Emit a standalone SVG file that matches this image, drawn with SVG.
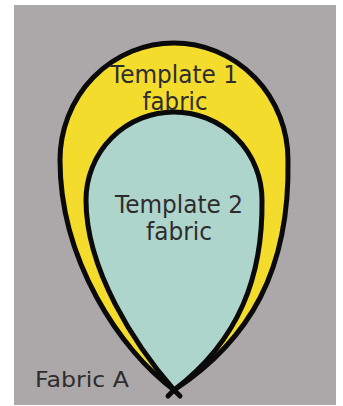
<svg xmlns="http://www.w3.org/2000/svg" width="343" height="406" viewBox="0 0 343 406">
<style>
.lbl{font-family:"DejaVu Sans","Liberation Sans",sans-serif;fill:#2e2c2d;text-anchor:middle}
.edge{stroke:#0a0a0a;stroke-width:5;stroke-linejoin:round;stroke-linecap:round}
.line{fill:none}
.t1{fill:#f3dc2c}
.t2{fill:#aed5cc}
</style>
<rect x="0" y="0" width="343" height="406" fill="#ffffff"/>
<rect id="fabricA" x="14" y="5" width="322" height="400" fill="#aca8a9"/>
<g id="template1">
<path d="M174 390 C120 350 60 260 60 160 A114 117 0 0 1 288 160 C290 270 250 340 174 390 Z" class="edge t1"/>
</g>
<g id="template2">
<path d="M174 390 C135 345 86 270 86 200 A88 88 0 0 1 262 200 C263 275 240 340 174 390 Z" class="edge t2"/>
</g>
<g id="tip">
<path d="M174 390 L180 396 M174 390 L168 396" class="edge line" stroke-width="4"/>
</g>
<text class="lbl" x="174" y="83" font-size="24" textLength="128" lengthAdjust="spacingAndGlyphs">Template 1</text>
<text class="lbl" x="175" y="110" font-size="24" textLength="65" lengthAdjust="spacingAndGlyphs">fabric</text>
<text class="lbl" x="179" y="213" font-size="24" textLength="128" lengthAdjust="spacingAndGlyphs">Template 2</text>
<text class="lbl" x="179" y="240" font-size="24" textLength="66" lengthAdjust="spacingAndGlyphs">fabric</text>
<text class="lbl" x="82" y="387" font-size="22" textLength="94" lengthAdjust="spacingAndGlyphs">Fabric A</text>
</svg>
